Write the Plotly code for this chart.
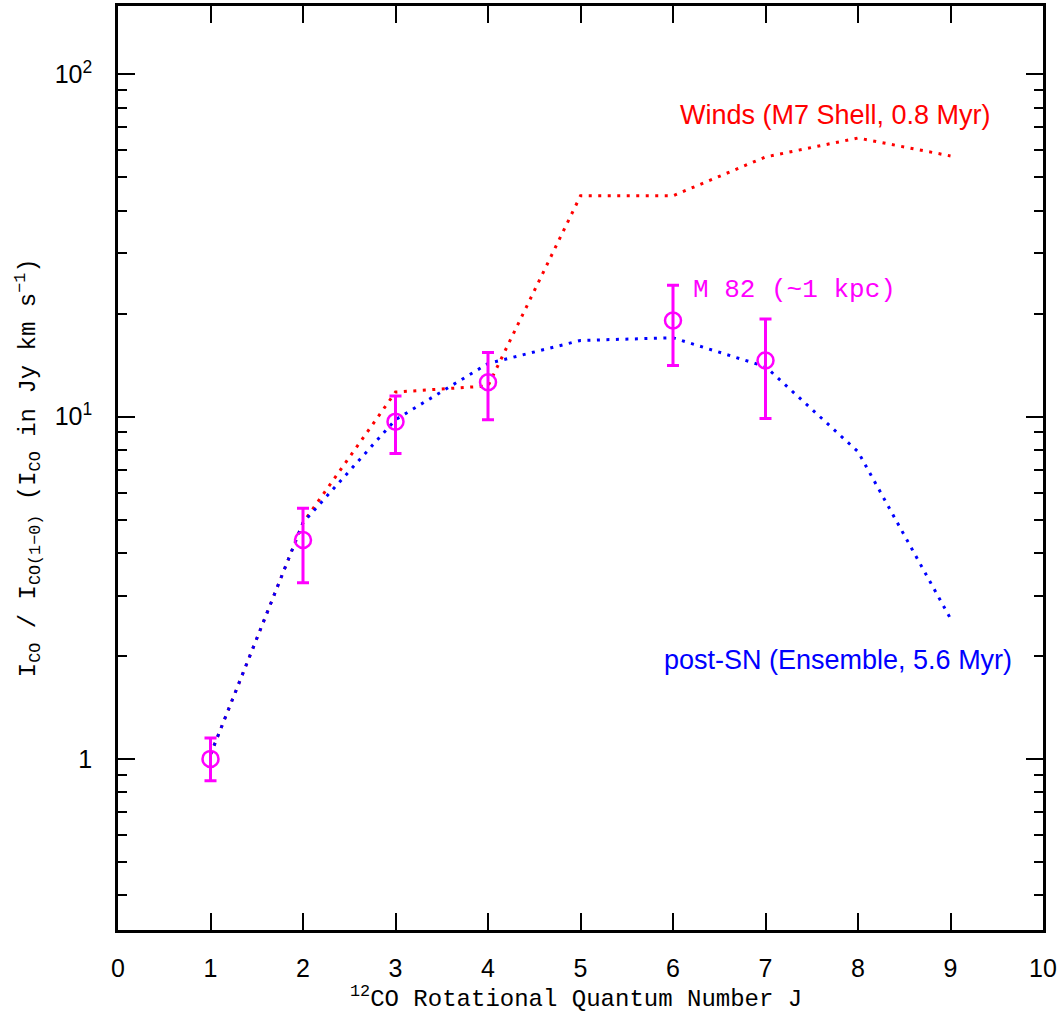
import plotly.graph_objects as go

# Observed M82 ratios (J, value, +err top, -err bottom)
obs_J = [1, 2, 3, 4, 6, 7]
obs_val = [1.0, 4.36, 9.67, 12.6, 19.1, 14.6]
obs_top = [1.15, 5.40, 11.5, 15.4, 24.2, 19.3]
obs_bot = [0.863, 3.27, 7.8, 9.8, 14.1, 9.87]

# Models
model_J = [1, 2, 3, 4, 5, 6, 7, 8, 9]
winds_val = [1.03, 4.9, 11.8, 12.3, 44.2, 44.2, 57.4, 65.2, 57.8]
postsn_val = [1.03, 4.9, 9.8, 14.3, 16.7, 17.0, 14.0, 7.9, 2.57]

x_ticks = [0, 1, 2, 3, 4, 5, 6, 7, 8, 9, 10]
y_ticks = [1, 10, 100]
y_ticklabels = ["1", "10<sup>1</sup>", "10<sup>2</sup>"]
y_minor = [0.4, 0.5, 0.6, 0.7, 0.8, 0.9,
           2, 3, 4, 5, 6, 7, 8, 9,
           20, 30, 40, 50, 60, 70, 80, 90]

RED = "#ff0000"
BLUE = "#0000ff"
MAG = "#ff00ff"
SANS = "Liberation Sans, Arial, sans-serif"
MONO = "Liberation Mono, Courier New, monospace"

fig = go.Figure()
fig.add_trace(go.Scatter(x=model_J, y=winds_val, mode="lines",
                         line=dict(color=RED, width=3, dash="3px,6.5px"),
                         showlegend=False))
fig.add_trace(go.Scatter(x=model_J, y=postsn_val, mode="lines",
                         line=dict(color=BLUE, width=3, dash="3px,6.5px"),
                         showlegend=False))
fig.add_trace(go.Scatter(
    x=obs_J, y=obs_val, mode="markers",
    marker=dict(symbol="circle-open", size=16, color=MAG, line=dict(width=2.5, color=MAG)),
    error_y=dict(type="data", symmetric=False,
                 array=[t - v for t, v in zip(obs_top, obs_val)],
                 arrayminus=[v - b for v, b in zip(obs_val, obs_bot)],
                 color=MAG, thickness=3, width=6),
    showlegend=False))

fig.add_annotation(x=7.76, y=1.881, xref="x", yref="y", text="Winds (M7 Shell, 0.8 Myr)",
                   xanchor="center", yanchor="middle",
                   showarrow=False, font=dict(family=SANS, size=27, color=RED))
fig.add_annotation(x=7.31, y=1.369, xref="x", yref="y", text="M 82 (~1 kpc)",
                   xanchor="center", yanchor="middle",
                   showarrow=False, font=dict(family=MONO, size=26, color=MAG))
fig.add_annotation(x=7.78, y=0.288, xref="x", yref="y", text="post-SN (Ensemble, 5.6 Myr)",
                   xanchor="center", yanchor="middle",
                   showarrow=False, font=dict(family=SANS, size=27, color=BLUE))

fig.add_annotation(x=0.495, y=-0.073, xref="paper", yref="paper",
                   xanchor="center", yanchor="middle",
                   text="<sup>12</sup>CO Rotational Quantum Number J",
                   showarrow=False, font=dict(family=MONO, size=24, color="black"))
fig.add_annotation(x=-0.097, y=0.5, xref="paper", yref="paper", textangle=-90,
                   xanchor="center", yanchor="middle",
                   text="I<sub>CO</sub> / I<sub>CO(1−0)</sub> (I<sub>CO</sub> in Jy km s<sup>−1</sup>)",
                   showarrow=False, font=dict(family=MONO, size=24, color="black"))

fig.update_xaxes(range=[0, 10], tickmode="array", tickvals=x_ticks,
                 ticks="inside", ticklen=17, tickwidth=2, tickcolor="black",
                 showline=True, linewidth=2.5, linecolor="black", mirror="allticks",
                 showgrid=False, zeroline=False,
                 tickfont=dict(family=SANS, size=25, color="black"),
                 ticklabelstandoff=14)
fig.update_yaxes(type="log", range=[-0.5, 2.2], tickmode="array",
                 tickvals=y_ticks, ticktext=y_ticklabels,
                 ticks="inside", ticklen=17, tickwidth=2, tickcolor="black",
                 minor=dict(tickmode="array", tickvals=y_minor, ticks="inside",
                            ticklen=9, tickwidth=2, tickcolor="black", showgrid=False),
                 showline=True, linewidth=2.5, linecolor="black", mirror="allticks",
                 showgrid=False, zeroline=False,
                 tickfont=dict(family=SANS, size=25, color="black"),
                 ticklabelstandoff=18)

fig.update_layout(width=1063, height=1017,
                  margin=dict(l=118, r=20, t=3, b=87),
                  paper_bgcolor="white", plot_bgcolor="white",
                  showlegend=False)

fig.write_html("out.html", config={"displayModeBar": False},
               post_script="document.body.style.margin='0';")
